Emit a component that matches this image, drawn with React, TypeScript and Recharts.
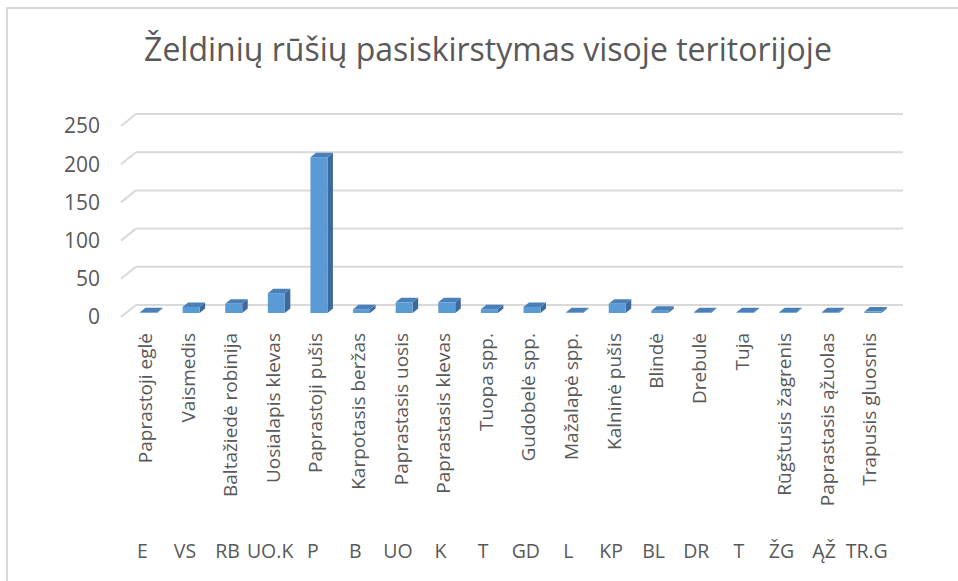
import { Bar, BarChart, CartesianGrid, XAxis, YAxis } from "recharts";

const title = "Želdinių rūšių pasiskirstymas visoje teritorijoje";

const codes = ["E", "VS", "RB", "UO.K", "P", "B", "UO", "K", "T", "GD", "L", "KP", "BL", "DR", "T", "ŽG", "ĄŽ", "TR.G"];

const names = [
  "Paprastoji eglė",
  "Vaismedis",
  "Baltažiedė robinija",
  "Uosialapis klevas",
  "Paprastoji pušis",
  "Karpotasis beržas",
  "Paprastasis uosis",
  "Paprastasis klevas",
  "Tuopa spp.",
  "Gudobelė spp.",
  "Mažalapė spp.",
  "Kalninė pušis",
  "Blindė",
  "Drebulė",
  "Tuja",
  "Rūgštusis žagrenis",
  "Paprastasis ąžuolas",
  "Trapusis gluosnis",
];

const values = [1, 8, 12, 26, 204, 5, 14, 14, 5, 8, 1, 12, 3, 1, 1, 1, 1, 2];

const yTicks = [0, 50, 100, 150, 200, 250];

const data = names.map((name, i) => ({ name, code: codes[i], value: values[i] }));

const FONT = "'Open Sans', sans-serif";
const TEXT = "#595959";

// oblique depth of the floor / back wall
const DEPTH_X = 15;
const DEPTH_Y = -12;

function Column3D(props: any) {
  const { x, y, width, height } = props;
  const fx = x + 6;
  const fy = y - 4;
  const dx = 5.5;
  const dy = -4.5;
  return (
    <g>
      <polygon
        points={`${fx + width},${fy} ${fx + width + dx},${fy + dy} ${fx + width + dx},${fy + height + dy} ${fx + width},${fy + height}`}
        fill="#3d6a98"
      />
      <polygon
        points={`${fx},${fy} ${fx + width},${fy} ${fx + width + dx},${fy + dy} ${fx + dx},${fy + dy}`}
        fill="#4a80b9"
      />
      <rect x={fx} y={fy} width={width} height={height} fill="#5b9bd5" />
    </g>
  );
}

function gridLine(p: any) {
  return (
    <g key={p.key}>
      <line x1={p.x1} y1={p.y1} x2={p.x1 + DEPTH_X} y2={p.y1 + DEPTH_Y} stroke="#d9d9d9" strokeWidth={2} />
      <line x1={p.x1 + DEPTH_X} y1={p.y1 + DEPTH_Y} x2={p.x2 + DEPTH_X} y2={p.y1 + DEPTH_Y} stroke="#d9d9d9" strokeWidth={2} />
    </g>
  );
}

function YTick(props: any) {
  const { x, y, payload } = props;
  return (
    <text x={x} y={y} dy="0.35em" textAnchor="end" fill={TEXT} fontSize={21} fontFamily={FONT}>
      {payload.value}
    </text>
  );
}

function XTick(props: any) {
  const { x, y, payload } = props;
  const i = payload.index;
  const nx = x + 3;
  const ny = y + 8;
  return (
    <g>
      <text
        x={nx}
        y={ny}
        dy="0.35em"
        transform={`rotate(-90, ${nx}, ${ny})`}
        textAnchor="end"
        fill={TEXT}
        fontSize={19}
        fontFamily={FONT}
      >
        {names[i]}
      </text>
      <text x={x} y={y + 233} textAnchor="middle" fill={TEXT} fontSize={19.5} fontFamily={FONT}>
        {codes[i]}
      </text>
    </g>
  );
}

export default function App() {
  return (
    <div style={{ position: "absolute", left: 0, top: 0, width: 958, height: 581, overflow: "hidden", background: "#fff" }}>
      <div
        style={{
          position: "absolute",
          left: 6,
          top: 7,
          width: 990,
          height: 600,
          border: "2px solid #d9d9d9",
        }}
      />
      <div
        style={{
          position: "absolute",
          left: 0,
          top: 33,
          width: 976,
          textAlign: "center",
          fontFamily: FONT,
          fontWeight: 400,
          fontSize: 32,
          lineHeight: 1,
          color: TEXT,
          whiteSpace: "nowrap",
        }}
      >
        {title}
      </div>
      <div style={{ position: "absolute", left: 0, top: 0 }}>
        <BarChart
          width={958}
          height={581}
          data={data}
          margin={{ top: 126, right: 70, left: 61, bottom: 24 }}
          barSize={17}
        >
          <CartesianGrid vertical={false} horizontal={gridLine} />
          <YAxis
            width={60}
            domain={[0, 250]}
            ticks={yTicks}
            axisLine={false}
            tickLine={false}
            tickSize={0}
            tickMargin={21}
            tick={<YTick />}
            interval={0}
          />
          <XAxis
            dataKey="name"
            height={240}
            axisLine={false}
            tickLine={false}
            interval={0}
            tick={<XTick />}
          />
          <Bar dataKey="value" isAnimationActive={false} shape={<Column3D />} />
        </BarChart>
      </div>
    </div>
  );
}
